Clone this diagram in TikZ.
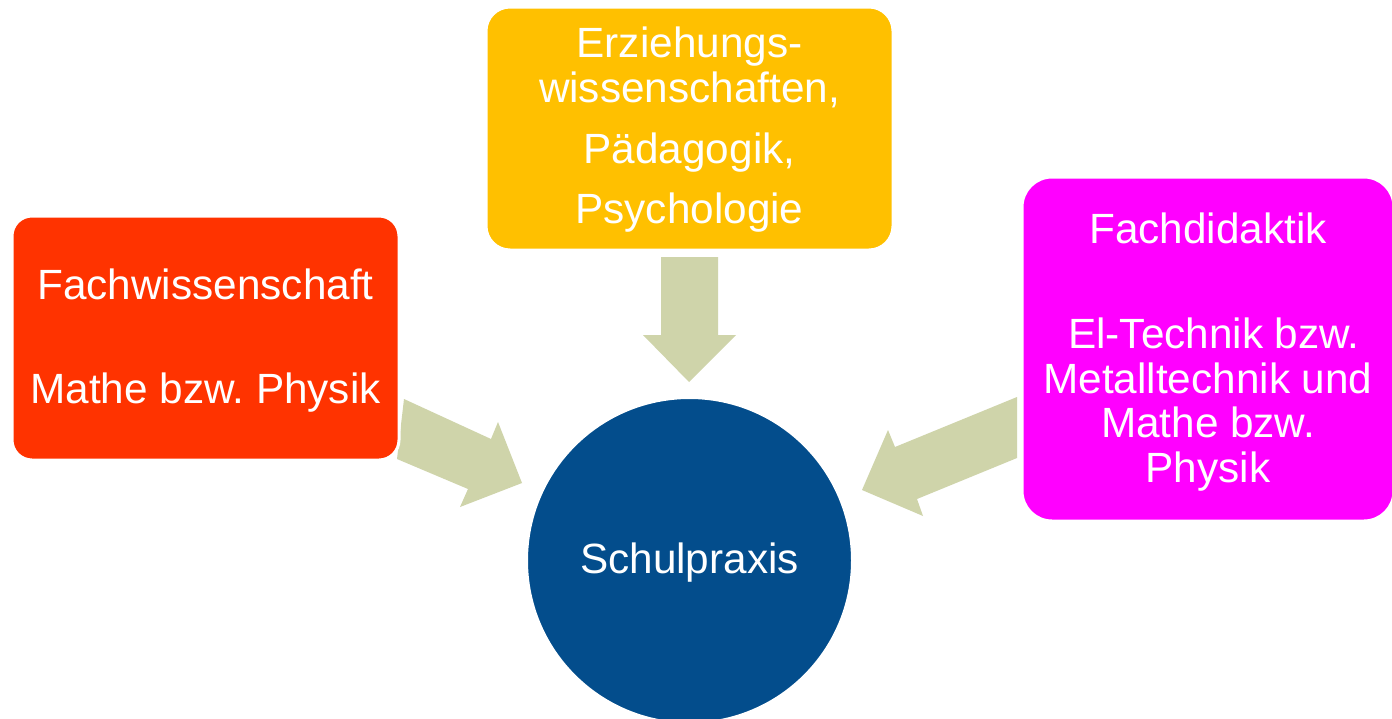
\documentclass[tikz,border=0pt]{standalone}
\usepackage{fontspec}
\setmainfont{Liberation Sans}
\frenchspacing
\definecolor{cred}{HTML}{FF3300}
\definecolor{corange}{HTML}{FFC000}
\definecolor{cmag}{HTML}{FF00FF}
\definecolor{cblue}{HTML}{034D8C}
\definecolor{carrow}{HTML}{CFD4AA}
\tikzset{
  box/.style={draw=white, line width=3pt, inner sep=0pt, rectangle},
  lbl/.style={text=white, inner sep=0pt, align=center, anchor=base,
    font=\fontsize{42.3}{44.5}\selectfont},
  blockarrow/.style={fill=carrow, draw=none}
}
\begin{document}
\begin{tikzpicture}[x=1pt,y=-1pt]
\useasboundingbox[fill=white] (0,0) rectangle (1392,718);
% block arrows
\fill[blockarrow] (661,257) -- (718,257) -- (718,335) -- (736,335) -- (689,382) -- (643,335) -- (661,335) -- cycle;
\fill[blockarrow] (404,399) -- (491,439) -- (498,422) -- (522,483) -- (460,507) -- (468,489) -- (397,459) -- cycle;
\fill[blockarrow] (1017,397) -- (895,447) -- (888,430) -- (862,490) -- (923,516) -- (917,499) -- (1017,458) -- cycle;
% boxes
\node[box, fill=cred, rounded corners=20pt, minimum width=387pt, minimum height=244pt] (fw) at (205.5,338) {};
\node[box, fill=corange, rounded corners=24pt, minimum width=407pt, minimum height=243pt] (ew) at (689.5,128.5) {};
\node[box, fill=cmag, rounded corners=30pt, minimum width=372pt, minimum height=344pt] (fd) at (1208,349) {};
\node[circle, fill=cblue, draw=white, line width=2pt, minimum size=325pt, inner sep=0pt] (sp) at (689.5,560.5) {};
% texts (anchor=base is the baseline of the last line)
\node[lbl] (fwt) at (205.5,403) {Fachwissenschaft\\[59.5pt]Mathe bzw. Physik};
\node[lbl] (ewt) at (689.5,223) {Erziehungs-\\wissenschaften,\\[16.5pt]Pädagogik,\\[15.5pt]Psychologie};
\node[lbl] (fdt) at (1208,482) {Fachdidaktik\\[60.5pt]\ El-Technik bzw.\\Metalltechnik und\\Mathe bzw.\\Physik};
\node[lbl] (spt) at (689.5,573) {Schulpraxis};
\end{tikzpicture}
\end{document}
